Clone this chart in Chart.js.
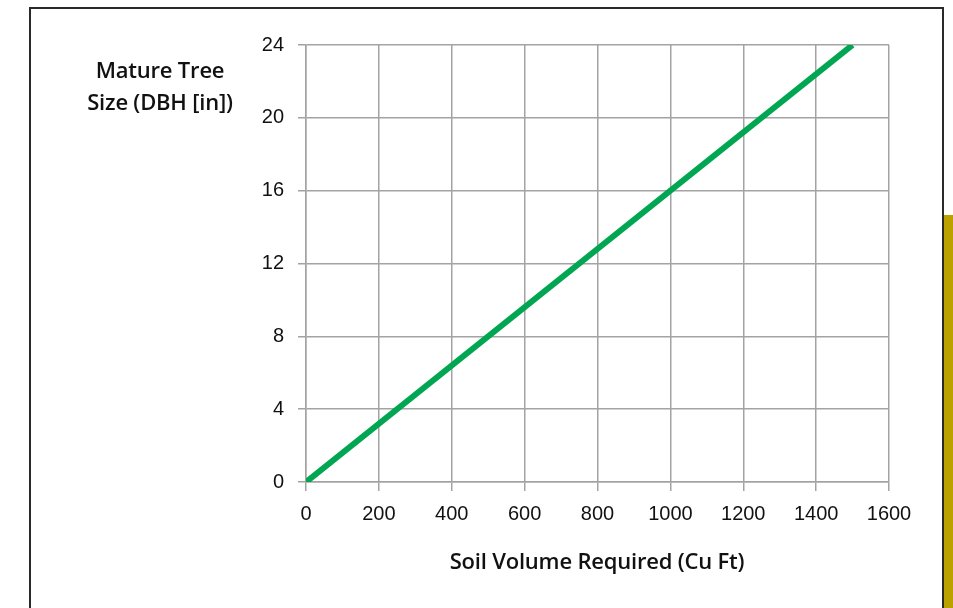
<!DOCTYPE html>
<html>
<head>
<meta charset="utf-8">
<script src="https://cdn.jsdelivr.net/npm/chart.js@4/dist/chart.umd.min.js"></script>
<style>
  html, body { margin: 0; padding: 0; background: #fff; }
  #wrap { position: relative; width: 953px; height: 608px; overflow: hidden; }
  #frame {
    position: absolute; left: 29px; top: 7px; width: 915px; height: 640px;
    border: 2px solid #2a2a2a; box-sizing: border-box;
  }
  #goldbar { position: absolute; left: 944px; top: 215px; width: 9px; height: 393px; background: #bba200; }
  #chart-box { position: absolute; left: 0; top: 0; width: 953px; height: 608px; }
  .title { position: absolute; font-family: "Open Sans", sans-serif; font-weight: 600; font-size: 22px; color: #111; text-align: center; letter-spacing: -0.2px; }
  #ytitle { left: 60px; top: 53px; width: 200px; line-height: 32px; }
  #xtitle { left: 397px; top: 545px; width: 400px; }
</style>
</head>
<body>
<div id="wrap">
  <div id="frame"></div>
  <div id="goldbar"></div>
  <div id="chart-box"><canvas id="chart"></canvas></div>
  <div class="title" id="ytitle">Mature Tree<br>Size (DBH [in])</div>
  <div class="title" id="xtitle">Soil Volume Required (Cu Ft)</div>
</div>
<script>
/* ──────── DATA ──────── */
const soilVolume = [0, 1500];   // Cu Ft
const treeSize = [0, 24];       // DBH in inches
const xTicks = [0, 200, 400, 600, 800, 1000, 1200, 1400, 1600];
const yTicks = [0, 4, 8, 12, 16, 20, 24];

const GRID = '#a3a3a3';
const GREEN = '#00a651';
const TICK_FONT = { family: 'Liberation Sans, Arial', size: 20 };

const points = soilVolume.map((v, i) => ({ x: v, y: treeSize[i] }));

const ctx = document.getElementById('chart').getContext('2d');
new Chart(ctx, {
  type: 'line',
  data: {
    datasets: [{
      data: points,
      borderColor: GREEN,
      borderWidth: 6,
      pointRadius: 0,
      tension: 0,
      borderCapStyle: 'butt'
    }]
  },
  options: {
    responsive: true,
    maintainAspectRatio: false,
    animation: false,
    layout: { padding: { left: 0, right: 64, top: 45, bottom: 0 } },
    plugins: { legend: { display: false }, tooltip: { enabled: false } },
    scales: {
      x: {
        type: 'linear',
        min: xTicks[0],
        max: xTicks[xTicks.length - 1],
        afterBuildTicks: (s) => { s.ticks = xTicks.map(v => ({ value: v })); },
        afterFit: (s) => { s.height = 608 - 482; },
        grid: { color: GRID, lineWidth: 1.5, tickLength: 9 },
        border: { color: GRID, width: 1.5 },
        ticks: { color: '#111', padding: 11, font: TICK_FONT, callback: (v) => String(v) }
      },
      y: {
        min: yTicks[0],
        max: yTicks[yTicks.length - 1],
        afterBuildTicks: (s) => { s.ticks = yTicks.map(v => ({ value: v })); },
        afterFit: (s) => { s.width = 306; },
        grid: { color: GRID, lineWidth: 1.5, tickLength: 8 },
        border: { color: GRID, width: 1.5 },
        ticks: { color: '#111', padding: 14, font: TICK_FONT, callback: (v) => String(v) }
      }
    }
  }
});
</script>
</body>
</html>
